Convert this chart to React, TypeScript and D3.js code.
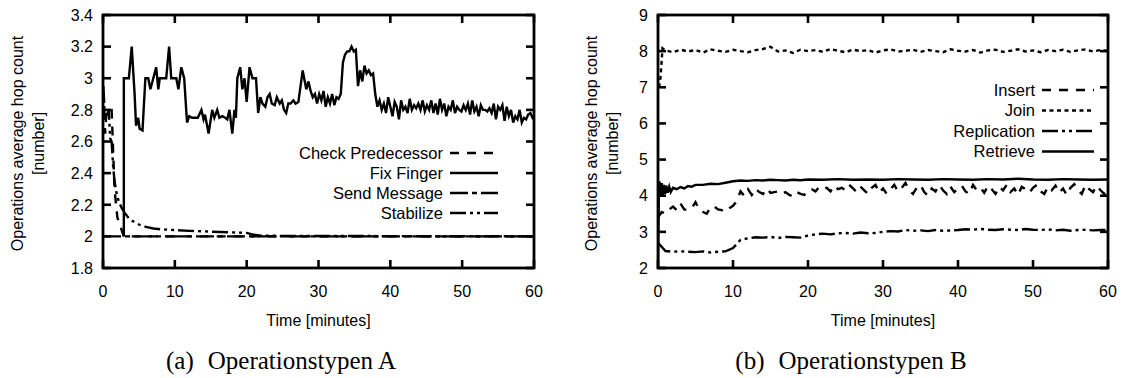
import React from "react";
import * as d3 from "d3";

// ---------- DATA ----------
const xTicks = [0, 10, 20, 30, 40, 50, 60];
const leftYTicks = [1.8, 2.0, 2.2, 2.4, 2.6, 2.8, 3.0, 3.2, 3.4];
const rightYTicks = [2, 3, 4, 5, 6, 7, 8, 9];

// Left chart: Operationstypen A  ([minute, hop count])
const checkPredecessor: [number, number][] = [
  [0.1, 2.9], [0.3, 2.65], [0.5, 2.8], [1.2, 2.8], [1.35, 2.62], [1.6, 2.3], [2.0, 2.12], [2.9, 2.0], [60, 2.0],
];
const fixFinger: [number, number][] = [
  [2.9, 2.0], [2.9, 3.0], [3.6, 3.0], [4.0, 3.2], [4.4, 2.9], [4.6, 2.7], [4.9, 2.75], [5.1, 2.68], [5.5, 2.67],
  [5.9, 3.0], [6.3, 3.0], [6.6, 2.93], [7.0, 3.0], [7.4, 3.07], [7.7, 2.93], [7.9, 3.0], [8.8, 3.0], [9.2, 3.2],
  [9.5, 3.0], [10.2, 3.0], [10.5, 2.93], [10.9, 3.07], [11.3, 3.0], [11.7, 2.72], [12.0, 2.76], [12.4, 2.75],
  [12.8, 2.75], [13.2, 2.75], [13.7, 2.8], [14.0, 2.74], [14.2, 2.77], [14.7, 2.65], [15.2, 2.8], [15.5, 2.75],
  [15.9, 2.8], [16.2, 2.75], [16.6, 2.76], [17.0, 2.75], [17.3, 2.74], [17.6, 2.8], [18.0, 2.65], [18.3, 2.8],
  [18.5, 2.75], [18.7, 3.0], [19.1, 3.07], [19.4, 2.93], [19.7, 3.0], [20.0, 2.85], [20.4, 3.07], [20.8, 3.0],
  [21.3, 3.0], [21.6, 2.78], [21.9, 2.88], [22.2, 2.84], [22.6, 2.82], [22.9, 2.88], [23.2, 2.9], [23.5, 2.84],
  [23.9, 2.83], [24.2, 2.88], [24.6, 2.84], [24.9, 2.86], [25.2, 2.8], [25.5, 2.78], [25.8, 2.84], [26.1, 2.84],
  [26.5, 2.86], [26.8, 2.84], [27.2, 2.85], [27.5, 2.95], [27.8, 3.05], [28.0, 3.0], [28.3, 2.93], [28.6, 2.98],
  [28.9, 2.92], [29.2, 2.88], [29.5, 2.9], [29.8, 2.84], [30.1, 2.9], [30.4, 2.86], [30.7, 2.92], [31.0, 2.82],
  [31.3, 2.88], [31.6, 2.84], [31.9, 2.9], [32.2, 2.83], [32.5, 2.88], [32.8, 2.87], [33.1, 2.9], [33.4, 3.1],
  [33.7, 3.15], [34.0, 3.17], [34.3, 3.17], [34.6, 3.2], [34.9, 3.17], [35.2, 3.18], [35.5, 2.95], [35.8, 3.05],
  [36.1, 2.98], [36.4, 3.08], [36.7, 3.03], [37.0, 3.05], [37.3, 3.02], [37.6, 3.03], [37.9, 2.9], [38.2, 2.82],
  [38.5, 2.86], [38.8, 2.8], [39.1, 2.84], [39.4, 2.78], [39.7, 2.88], [40.0, 2.82], [40.3, 2.76], [40.6, 2.85],
  [40.9, 2.82], [41.2, 2.74], [41.5, 2.86], [41.8, 2.8], [42.1, 2.82], [42.4, 2.78], [42.7, 2.87], [43.0, 2.8],
  [43.3, 2.83], [43.6, 2.81], [43.9, 2.84], [44.2, 2.8], [44.5, 2.86], [44.8, 2.79], [45.1, 2.83], [45.4, 2.8],
  [45.7, 2.86], [46.0, 2.78], [46.3, 2.84], [46.6, 2.77], [46.9, 2.87], [47.2, 2.8], [47.5, 2.84], [47.8, 2.76],
  [48.1, 2.82], [48.4, 2.8], [48.7, 2.86], [49.0, 2.78], [49.3, 2.82], [49.6, 2.8], [49.9, 2.79], [50.2, 2.83],
  [50.5, 2.8], [50.8, 2.84], [51.1, 2.77], [51.4, 2.86], [51.7, 2.79], [52.0, 2.82], [52.3, 2.76], [52.6, 2.83],
  [52.9, 2.8], [53.2, 2.8], [53.5, 2.79], [53.8, 2.81], [54.1, 2.78], [54.4, 2.84], [54.7, 2.74], [55.0, 2.82],
  [55.3, 2.8], [55.6, 2.83], [55.9, 2.73], [56.2, 2.82], [56.5, 2.76], [56.8, 2.8], [57.1, 2.72], [57.4, 2.76],
  [57.7, 2.74], [58.0, 2.8], [58.3, 2.72], [58.6, 2.75], [58.9, 2.74], [59.2, 2.77], [59.5, 2.78], [59.8, 2.75],
  [60.0, 2.76],
];
const sendMessage: [number, number][] = [[0, 2.0], [60, 2.0]];
const stabilize: [number, number][] = [
  [0.05, 2.95], [0.2, 2.8], [0.5, 2.75], [0.8, 2.8], [1.0, 2.62], [1.2, 2.6], [1.4, 2.45], [1.6, 2.35],
  [1.9, 2.27], [2.2, 2.22], [2.6, 2.18], [3.0, 2.15], [3.5, 2.12], [4.0, 2.1], [5.0, 2.075], [6.0, 2.06],
  [7.0, 2.05], [8.0, 2.045], [10.0, 2.04], [12.0, 2.035], [15.0, 2.03], [18.0, 2.025], [20.0, 2.022],
  [21.0, 2.01], [22.0, 2.005], [25.0, 2.003], [60.0, 2.0],
];

// Right chart: Operationstypen B
const insertT = d3.range(0, 60.01, 0.5);
const insertV = [
  3.4, 3.55, 3.5, 3.62, 3.7, 3.6, 3.78, 3.62, 3.6, 3.65, 3.82, 3.62, 3.55, 3.5, 3.68, 3.7, 3.62, 3.6, 3.55, 3.65,
  3.72, 3.85, 4.12, 4.0, 4.18, 4.02, 4.2, 4.1, 4.05, 4.2, 4.08, 4.1, 4.12, 4.05, 4.1, 4.02, 3.98, 4.1, 4.05, 4.02,
  4.15, 4.18, 4.12, 4.25, 4.2, 4.22, 4.12, 4.28, 4.18, 4.22, 4.15, 4.3, 4.2, 4.1, 4.25, 4.15, 4.05, 4.22, 4.3, 4.08,
  4.2, 4.05, 4.18, 4.3, 4.12, 4.22, 4.35, 4.15, 4.05, 4.22, 4.3, 4.1, 4.0, 4.2, 4.12, 4.3, 4.15, 4.05, 4.25, 4.1,
  4.2, 4.28, 4.12, 4.05, 4.3, 4.15, 4.22, 4.08, 4.28, 4.18, 4.05, 4.25, 4.15, 4.3, 4.1, 4.2, 4.02, 4.25, 4.18, 4.08,
  4.22, 4.3, 4.12, 4.05, 4.25, 4.15, 4.28, 4.08, 4.2, 4.02, 4.22, 4.32, 4.15, 4.05, 4.3, 4.18, 4.1, 4.28, 4.15, 4.05,
  4.1,
];
const joinStart: [number, number][] = [[0.15, 7.0], [0.35, 7.3], [0.6, 8.08]];
const joinV = [
  8.02, 7.97, 8.04, 7.99, 8.03, 7.96, 8.05, 8.01, 7.98, 8.04, 8.0, 7.97, 8.03, 8.06, 8.12, 7.99, 8.02, 7.95, 8.04, 8.0,
  8.03, 7.98, 8.06, 8.01, 7.97, 8.04, 8.0, 8.03, 7.96, 8.02, 8.05, 7.99, 8.01, 8.04, 7.98, 8.03, 8.0, 7.97, 8.05, 8.01,
  7.99, 8.03, 7.96, 8.02, 8.04, 7.98, 8.01, 8.05, 7.99, 8.02, 7.97, 8.03, 8.0, 8.04, 7.98, 8.02, 8.05, 7.99, 8.03, 8.01,
];
const replicationV = [
  2.7, 2.47, 2.45, 2.46, 2.45, 2.44, 2.46, 2.43, 2.45, 2.46, 2.55, 2.78, 2.82, 2.85, 2.84, 2.86, 2.83, 2.86, 2.85, 2.84,
  2.9, 2.93, 2.95, 2.93, 2.96, 2.97, 2.95, 2.98, 2.96, 2.97, 3.0, 3.02, 3.01, 3.05, 3.03, 3.04, 3.02, 3.05, 3.03, 3.04,
  3.05, 3.07, 3.06, 3.08, 3.06, 3.05, 3.07, 3.06, 3.05, 3.08, 3.06, 3.05, 3.07, 3.04, 3.06, 3.03, 3.05, 3.06, 3.04, 3.05,
  3.05,
];
const retrieve: [number, number][] = [
  [0, 2.0], [0.1, 3.9], [0.2, 4.4], [0.35, 4.0], [0.5, 4.35], [0.65, 4.0], [0.8, 4.3], [0.95, 4.05], [1.1, 4.28],
  [1.3, 4.08], [1.5, 4.25], [1.7, 4.1], [2.0, 4.22], [2.5, 4.18], [3.0, 4.24], [3.5, 4.2], [4.0, 4.27], [4.5, 4.25],
  [5.0, 4.3], [6.0, 4.3], [7.0, 4.33], [8.0, 4.32], [9.0, 4.36], [10.0, 4.4], [11.0, 4.42], [12, 4.41], [13, 4.43],
  [14, 4.42], [15, 4.44], [16, 4.43], [17, 4.42], [18, 4.44], [19, 4.43], [20, 4.45], [22, 4.44], [24, 4.46],
  [26, 4.44], [28, 4.45], [30, 4.44], [32, 4.46], [34, 4.45], [36, 4.44], [38, 4.46], [40, 4.45], [42, 4.44],
  [44, 4.46], [46, 4.45], [48, 4.47], [50, 4.45], [52, 4.44], [54, 4.46], [56, 4.45], [58, 4.44], [60, 4.45],
];

const leftNames = ["Check Predecessor", "Fix Finger", "Send Message", "Stabilize"];
const rightNames = ["Insert", "Join", "Replication", "Retrieve"];

// ---------- STYLE ----------
const DASH = {
  dashed: "9,8",
  solid: "none",
  dashShort: "18,4,5,4",
  dashDotDot: "16,4,3,4,3,4",
  dotted: "4,3.5",
};
const SANS = "'Liberation Sans', Arial, Helvetica, sans-serif";
const SERIF = "'Liberation Serif', 'Times New Roman', serif";

type Series = { name: string; data: [number, number][]; dash: string };

type PanelProps = {
  left: number; right: number; top: number; bottom: number;
  yDomain: [number, number]; yTicks: number[]; yFmt: (v: number) => string;
  series: Series[];
  legendTextX: number; legendY: number[]; legendLen: number;
  titleX: [number, number];
  capTag: string; capText: string; captionX: number;
};

function Panel(p: PanelProps) {
  const x = d3.scaleLinear().domain([0, 60]).range([p.left, p.right]);
  const y = d3.scaleLinear().domain(p.yDomain).range([p.bottom, p.top]);
  const line = d3.line<[number, number]>().x((d) => x(d[0])).y((d) => y(d[1]));
  const tl = 8;
  const yc = (p.top + p.bottom) / 2 + 2;
  return (
    <g>
      <defs>
        <clipPath id={"clip" + p.left}>
          <rect x={p.left} y={p.top} width={p.right - p.left} height={p.bottom - p.top} />
        </clipPath>
      </defs>
      <g clipPath={`url(#clip${p.left})`}>
        {p.series.map((s) => (
          <path key={s.name} d={line(s.data) || ""} fill="none" stroke="#000" strokeWidth={2.4}
            strokeDasharray={s.dash} strokeLinejoin="miter" />
        ))}
      </g>
      {xTicks.map((t) => (
        <g key={"xt" + t}>
          <line x1={x(t)} x2={x(t)} y1={p.bottom} y2={p.bottom - tl} stroke="#000" strokeWidth={2.6} />
          <line x1={x(t)} x2={x(t)} y1={p.top} y2={p.top + tl} stroke="#000" strokeWidth={2.6} />
          <text x={x(t)} y={p.bottom + 29} textAnchor="middle" fontFamily={SANS} fontSize={16}>{t}</text>
        </g>
      ))}
      {p.yTicks.map((t) => (
        <g key={"yt" + t}>
          <line x1={p.left} x2={p.left + tl} y1={y(t)} y2={y(t)} stroke="#000" strokeWidth={2.6} />
          <line x1={p.right} x2={p.right - tl} y1={y(t)} y2={y(t)} stroke="#000" strokeWidth={2.6} />
          <text x={p.left - 10} y={y(t)} dy="0.36em" textAnchor="end" fontFamily={SANS} fontSize={16}>{p.yFmt(t)}</text>
        </g>
      ))}
      <rect x={p.left} y={p.top} width={p.right - p.left} height={p.bottom - p.top} fill="none" stroke="#000" strokeWidth={2.8} />
      {p.series.map((s, i) => (
        <g key={"lg" + s.name}>
          <text x={p.legendTextX} y={p.legendY[i]} dy="0.36em" textAnchor="end" fontFamily={SANS} fontSize={16.5}>{s.name}</text>
          <line x1={p.legendTextX + 7} x2={p.legendTextX + 7 + p.legendLen} y1={p.legendY[i]} y2={p.legendY[i]}
            stroke="#000" strokeWidth={2.4} strokeDasharray={s.dash} />
        </g>
      ))}
      <g transform={`translate(${p.titleX[0]},${yc}) rotate(-90)`}>
        <text textAnchor="middle" fontFamily={SANS} fontSize={16}>Operations average hop count</text>
      </g>
      <g transform={`translate(${p.titleX[1]},${yc}) rotate(-90)`}>
        <text textAnchor="middle" fontFamily={SANS} fontSize={16}>[number]</text>
      </g>
      <text x={(p.left + p.right) / 2} y={p.bottom + 58} textAnchor="middle" fontFamily={SANS} fontSize={16}>Time [minutes]</text>
      <text x={p.captionX} y={p.bottom + 101} textAnchor="middle" fontFamily={SERIF} fontSize={25}>
        <tspan>{p.capTag}</tspan>
        <tspan dx={14}>{p.capText}</tspan>
      </text>
    </g>
  );
}

export default function App() {
  const leftSeries: Series[] = [
    { name: leftNames[0], data: checkPredecessor, dash: DASH.dashed },
    { name: leftNames[1], data: fixFinger, dash: DASH.solid },
    { name: leftNames[2], data: sendMessage, dash: DASH.dashShort },
    { name: leftNames[3], data: stabilize, dash: DASH.dashDotDot },
  ];
  const insert = insertT.map((t, i) => [t, insertV[i]] as [number, number]);
  const join = joinStart.concat(joinV.map((v, i) => [i + 1, v] as [number, number]));
  const replication = replicationV.map((v, i) => [i, v] as [number, number]);
  const rightSeries: Series[] = [
    { name: rightNames[0], data: insert, dash: DASH.dashed },
    { name: rightNames[1], data: join, dash: DASH.dotted },
    { name: rightNames[2], data: replication, dash: DASH.dashDotDot },
    { name: rightNames[3], data: retrieve, dash: DASH.solid },
  ];
  const fmtL = (v: number) => (Math.abs(v - Math.round(v)) < 1e-9 ? String(Math.round(v)) : v.toFixed(1));
  return (
    <>
      <style>{`body{margin:0}`}</style>
      <svg width={1126} height={378} style={{ display: "block", background: "#fff" }}>
        <Panel left={103} right={534} top={15} bottom={268} yDomain={[1.8, 3.4]} yTicks={leftYTicks} yFmt={fmtL}
          series={leftSeries} legendTextX={443} legendY={[153, 173, 193, 213]} legendLen={48}
          titleX={[23, 44]} capTag="(a)" capText="Operationstypen A" captionX={281} />
        <Panel left={658} right={1108} top={15} bottom={268} yDomain={[2, 9]} yTicks={rightYTicks} yFmt={(v) => String(v)}
          series={rightSeries} legendTextX={1035} legendY={[90, 110.5, 131, 151.5]} legendLen={52}
          titleX={[597, 618]} capTag="(b)" capText="Operationstypen B" captionX={851} />
      </svg>
    </>
  );
}
